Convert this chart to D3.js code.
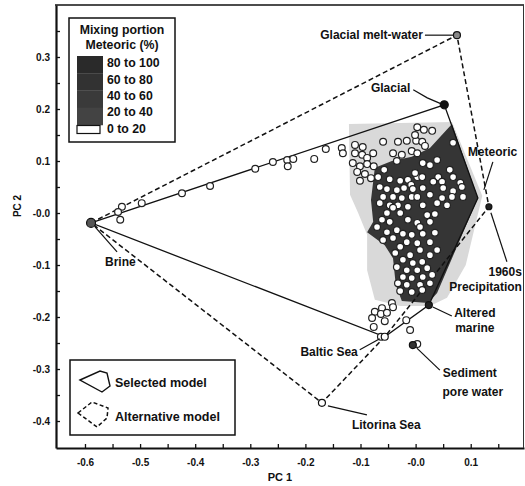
<!DOCTYPE html>
<html><head><meta charset="utf-8">
<script src="https://cdn.jsdelivr.net/npm/d3@7"></script>
<style>
body{margin:0;background:#fff}
svg{display:block}
text{font-family:"Liberation Sans",Arial,sans-serif;font-weight:bold;fill:#111}
</style>
</head><body><svg id="c" width="525" height="486"></svg>
<script>
// ---------- DATA ----------
const xTickValues = [-0.6,-0.5,-0.4,-0.3,-0.2,-0.1,0.0,0.1];
const xTickLabels = ["-0.6","-0.5","-0.4","-0.3","-0.2","-0.1","-0.0","0.1"];
const yTickValues = [0.3,0.2,0.1,0.0,-0.1,-0.2,-0.3,-0.4];
const yTickLabels = ["0.3","0.2","0.1","-0.0","-0.1","-0.2","-0.3","-0.4"];

const endMembers = ["Brine","Glacial melt-water","Glacial","Meteoric","1960s Precipitation","Altered marine","Baltic Sea","Sediment pore water","Litorina Sea"];
const emPC1 = [-0.589, 0.075, 0.052, 0.113, 0.133, 0.024, -0.056, -0.005, -0.170];
const emPC2 = [-0.019, 0.342, 0.208, 0.029, 0.012, -0.177, -0.238, -0.254, -0.365];

const selectedModel = ["Brine","Glacial","Meteoric","Altered marine","Baltic Sea"];
const alternativeModel = ["Brine","Glacial melt-water","1960s Precipitation","Baltic Sea","Litorina Sea"];

const samplePC1 = [
 -0.533,-0.540,-0.536,-0.497,-0.424,-0.373,-0.291,-0.259,-0.233,-0.232,-0.222,-0.184,-0.163,-0.134,-0.132,
 -0.110,-0.096,-0.110,-0.097,-0.088,-0.077,-0.059,-0.032,-0.016,0.001,-0.041,-0.025,-0.007,-0.034,-0.114,-0.101,-0.088,-0.076,-0.106,-0.092,-0.081,-0.068,-0.057,-0.047,-0.101,-0.028,-0.014,0.003,-0.065,-0.052,-0.034,-0.021,-0.008,-0.059,-0.041,-0.025,-0.007,-0.065,-0.047,-0.032,-0.014,
 0.003,0.015,0.030,-0.001,0.012,0.017,0.003,0.068,0.013,0.026,0.039,-0.001,0.012,0.041,0.062,0.068,0.032,0.048,0.081,-0.005,0.013,0.050,0.068,0.084,0.003,0.026,0.048,0.066,0.086,0.057,0.039,0.013,
 -0.041,-0.052,-0.028,-0.061,-0.047,-0.014,0.003,0.021,0.026,0.035,-0.070,-0.052,-0.034,-0.023,-0.007,0.008,0.013,0.035,-0.059,-0.041,-0.016,0.003,0.026,-0.028,0.008,0.039,-0.037,-0.010,0.026,-0.023,-0.005,0.012,-0.034,-0.016,0.003,0.021,-0.023,-0.007,0.013,0.030,-0.032,-0.016,0.008,0.026,-0.028,-0.007,0.012,
 -0.043,-0.061,-0.074,-0.063,-0.052,-0.079,-0.056,-0.076,-0.041,-0.017,-0.010,-0.063,0.003
];
const samplePC2 = [
 0.012,0.002,-0.013,0.019,0.038,0.052,0.085,0.098,0.102,0.090,0.104,0.104,0.123,0.125,0.115,
 0.131,0.127,0.115,0.112,0.106,0.115,0.137,0.137,0.139,0.139,0.115,0.112,0.119,0.100,0.096,0.090,0.094,0.090,0.079,0.075,0.067,0.069,0.083,0.065,0.062,0.062,0.064,0.069,0.050,0.046,0.044,0.048,0.054,0.031,0.031,0.029,0.031,0.019,0.015,0.015,0.012,
 0.165,0.160,0.158,0.150,0.137,0.129,0.115,0.135,0.096,0.092,0.102,0.077,0.069,0.069,0.083,0.069,0.060,0.060,0.058,0.046,0.048,0.048,0.042,0.050,0.031,0.035,0.029,0.031,0.031,0.015,0.019,0.015,
 0.010,0.000,0.000,-0.013,-0.017,-0.013,-0.019,-0.004,-0.017,-0.002,-0.027,-0.037,-0.033,-0.040,-0.042,-0.027,-0.040,-0.038,-0.052,-0.048,-0.056,-0.058,-0.056,-0.065,-0.071,-0.071,-0.077,-0.081,-0.081,-0.090,-0.096,-0.094,-0.104,-0.110,-0.110,-0.106,-0.123,-0.125,-0.123,-0.119,-0.135,-0.138,-0.138,-0.135,-0.150,-0.152,-0.148,
 -0.173,-0.183,-0.190,-0.194,-0.192,-0.202,-0.208,-0.219,-0.181,-0.206,-0.225,-0.238,-0.252
];

// mixing-portion zones (outlines in PC1/PC2 units)
const lowZonePC1 = [-0.121,0.066,0.121,0.091,0.057,0.026,-0.028,-0.074,-0.088,-0.088,-0.105,-0.119];
const lowZonePC2 = [0.171,0.175,0.033,-0.100,-0.163,-0.179,-0.179,-0.167,-0.110,-0.042,0.002,0.035];
const highZonePC1 = [0.066,0.113,0.039,0.023,-0.025,-0.036,-0.041,-0.056,-0.088,-0.077,-0.081,-0.074,-0.043,-0.007,0.026];
const highZonePC2 = [0.171,0.029,-0.154,-0.173,-0.169,-0.138,-0.087,-0.062,-0.037,-0.017,0.025,0.087,0.100,0.108,0.125];

const mixingClasses = ["80 to 100","60 to 80","40 to 60","20 to 40","0 to 20"];

// ---------- STYLE / LAYOUT ----------
const classColors = ["#2a2a2a","#323232","#3a3a3a","#434343","#ffffff"];
const lowZoneColor = "#d9d9d9", highZoneColor = "#353535";

const svg = d3.select("#c");
const x = d3.scaleLinear().domain([-0.6526, 0.1967]).range([56, 524]);
const y = d3.scaleLinear().domain([-0.4519, 0.4]).range([448, 5]);

const em = {};
endMembers.forEach((n,i)=>em[n]=[emPC1[i],emPC2[i]]);

// zones
const zone = (px,py)=>px.map((v,i)=>[x(v),y(py[i])]);
svg.append("path").attr("d", d3.line()(zone(lowZonePC1,lowZonePC2))+"Z").attr("fill",lowZoneColor);
svg.append("path").attr("d", d3.line()(zone(highZonePC1,highZonePC2))+"Z").attr("fill",highZoneColor);

// models
const poly = names => d3.line()(names.map(n=>[x(em[n][0]),y(em[n][1])]))+"Z";
svg.append("path").attr("d",poly(alternativeModel)).attr("fill","none").attr("stroke","#111")
  .attr("stroke-width",1.5).attr("stroke-dasharray","5,3");
svg.append("path").attr("d",poly(selectedModel)).attr("fill","none").attr("stroke","#111")
  .attr("stroke-width",1.3);

// samples
svg.append("g").selectAll("circle").data(samplePC1).join("circle")
  .attr("cx",(d)=>x(d)).attr("cy",(d,i)=>y(samplePC2[i])).attr("r",3.4)
  .attr("fill","#fff").attr("stroke","#222").attr("stroke-width",1.2);

// end-member markers
const markerStyle = {
  "Brine":{r:4.5,fill:"#555"}, "Glacial melt-water":{r:3.5,fill:"#888"}, "Glacial":{r:4,fill:"#111"},
  "Meteoric":{r:0,fill:"none"}, "1960s Precipitation":{r:3,fill:"#222"}, "Altered marine":{r:3.5,fill:"#222"},
  "Baltic Sea":{r:3.5,fill:"#fff"}, "Sediment pore water":{r:3.5,fill:"#333"}, "Litorina Sea":{r:3.5,fill:"#fff"}
};
// label layout: leader line offsets and text lines (offsets in px from the point)
const labelLayout = {
  "Brine":{lead:[[4,4],[26,29]], text:[["Brine",14,43,"start"]]},
  "Glacial melt-water":{lead:[[-3,0],[-32,0]], text:[["Glacial melt-water",-34,4,"end"]]},
  "Glacial":{lead:[[-3,-1],[-17,-7],[-31,-15]], text:[["Glacial",-34,-13,"end"]]},
  "Meteoric":{lead:[[6,-8],[15,-36]], text:[["Meteoric",-10,-42,"start"]]},
  "1960s Precipitation":{lead:[[2,6],[18,55]], text:[["1960s",33,69,"end"],["Precipitation",33,84,"end"]]},
  "Altered marine":{lead:[[4,2],[23,11]], text:[["Altered",46,12,"middle"],["marine",46,27,"middle"]]},
  "Baltic Sea":{lead:[[-5,2],[-25,13]], text:[["Baltic Sea",-27,19,"end"]]},
  "Sediment pore water":{lead:[[4,3],[27,25]], text:[["Sediment",57,32,"middle"],["pore water",60,51,"middle"]]},
  "Litorina Sea":{lead:[[6,3],[45,12]], text:[["Litorina Sea",30,26,"start"]]}
};
endMembers.forEach(n=>{
  const px=x(em[n][0]), py=y(em[n][1]); const L=labelLayout[n];
  svg.append("path").attr("d",d3.line()(L.lead.map(o=>[px+o[0],py+o[1]])))
    .attr("fill","none").attr("stroke","#111").attr("stroke-width",1.2);
  const s=markerStyle[n];
  if(s.r>0) svg.append("circle").attr("cx",px).attr("cy",py).attr("r",s.r).attr("fill",s.fill)
    .attr("stroke","#111").attr("stroke-width",1.2);
  L.text.forEach(t=>svg.append("text").attr("x",px+t[1]).attr("y",py+t[2]).attr("text-anchor",t[3])
    .attr("font-size",12).text(t[0]));
});

// axes
const xAll = d3.range(-12,4).map(k=>k*0.05);
const yAll = d3.range(-8,8).map(k=>k*0.05);
const lab = (vals,labels)=>v=>{const i=vals.findIndex(t=>Math.abs(t-v)<1e-6);return i<0?"":labels[i];};
const gx = svg.append("g").attr("transform","translate(0,448)")
  .call(d3.axisBottom(x).tickValues(xAll).tickSizeInner(-4).tickSizeOuter(0).tickPadding(11)
  .tickFormat(lab(xTickValues,xTickLabels)));
const gy = svg.append("g").attr("transform","translate(56,0)")
  .call(d3.axisLeft(y).tickValues(yAll).tickSizeInner(-4).tickSizeOuter(0).tickPadding(6)
  .tickFormat(lab(yTickValues,yTickLabels)));
[gx,gy].forEach(g=>{
  g.select(".domain").attr("stroke","#111").attr("stroke-width",2.2);
  g.selectAll(".tick line").attr("stroke","#111").attr("stroke-width",1.3);
  g.selectAll(".tick text").attr("font-size",10).attr("font-family",'"Liberation Sans",Arial,sans-serif')
   .attr("font-weight","bold").attr("fill","#111");
});
svg.append("line").attr("x1",55).attr("x2",524).attr("y1",5).attr("y2",5).attr("stroke","#111").attr("stroke-width",1.6);
svg.append("line").attr("x1",523.5).attr("x2",523.5).attr("y1",5).attr("y2",448).attr("stroke","#333").attr("stroke-width",1);

svg.append("text").attr("x",280).attr("y",481).attr("text-anchor","middle").attr("font-size",11).text("PC 1");
svg.append("text").attr("transform","translate(21,206) rotate(-90)").attr("text-anchor","middle").attr("font-size",10).text("PC 2");

// legend: mixing portion
const lg = svg.append("g").attr("transform","translate(69,18)");
lg.append("rect").attr("width",106).attr("height",124).attr("fill","#fff").attr("stroke","#111").attr("stroke-width",1.5);
lg.append("text").attr("x",53).attr("y",16).attr("text-anchor","middle").attr("font-size",12.3).text("Mixing portion");
lg.append("text").attr("x",53).attr("y",31).attr("text-anchor","middle").attr("font-size",12.3).text("Meteoric (%)");
mixingClasses.forEach((c,i)=>{
  const top = i<4 ? 38 + i*17.25 : 107.5;
  const h = i<4 ? 17.5 : 8;
  lg.append("rect").attr("x",8).attr("y",top).attr("width",i<4?26:23).attr("height",h)
    .attr("fill",classColors[i]).attr("stroke",i<4?"none":"#111").attr("stroke-width",1.2);
  lg.append("text").attr("x",38).attr("y",[49,66,82,98,115][i]).attr("font-size",12.3).text(c);
});

// legend: models
const lm = svg.append("g").attr("transform","translate(70,360)");
lm.append("rect").attr("width",165).attr("height",75).attr("fill","none").attr("stroke","#111").attr("stroke-width",1.5);
const iconSel = [[10,20],[30,11],[37,13],[40,26],[32,32]];
const iconAlt = [[8,53],[22,42],[38,48],[37,58],[27,67]];
lm.append("path").attr("d",d3.line()(iconSel)+"Z").attr("fill","none").attr("stroke","#111").attr("stroke-width",1.4);
lm.append("path").attr("d",d3.line()(iconAlt)+"Z").attr("fill","none").attr("stroke","#111").attr("stroke-width",1.5).attr("stroke-dasharray","4,2.5");
lm.append("text").attr("x",45).attr("y",27).attr("font-size",12.5).text("Selected model");
lm.append("text").attr("x",45).attr("y",61).attr("font-size",12.5).text("Alternative model");
</script></body></html>
